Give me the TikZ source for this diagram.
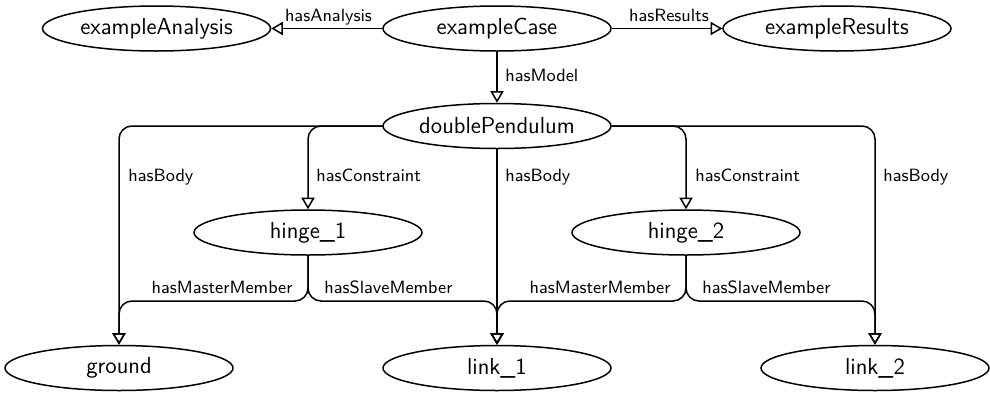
\documentclass[tikz,border=0pt]{standalone}
\usetikzlibrary{arrows.meta,shapes.geometric}
\begin{document}
\begin{tikzpicture}[x=0.5pt,y=-0.5pt,
  entity/.style={draw, ellipse, line width=0.75pt, minimum width=114pt,
    minimum height=22.5pt, inner sep=0pt,
    font=\sffamily\fontsize{11.6}{14}\selectfont},
  rel/.style={font=\sffamily\fontsize{8.9}{10.7}\selectfont, inner sep=0pt},
  link/.style={draw, line width=0.75pt,
    -{Triangle[open, length=5.8pt, width=6.6pt]}, rounded corners=6.5pt}]
\useasboundingbox (0,0) rectangle (990,392);

% ontology individuals
\node[entity] (analysis) at (156.5,28.5) {exampleAnalysis};
\node[entity] (case)     at (497,28.5)   {exampleCase};
\node[entity] (results)  at (837,28.5)   {exampleResults};
\node[entity] (dp)       at (497,126)    {doublePendulum};
\node[entity] (h1)       at (308,232.5)  {hinge\_1};
\node[entity] (h2)       at (686,232.5)  {hinge\_2};
\node[entity] (ground)   at (119,368)    {ground};
\node[entity] (link1)    at (497,368)    {link\_1};
\node[entity] (link2)    at (875,368)    {link\_2};

% height of the member buses below the hinges
\coordinate (bus) at (0,301);

% object properties
\draw[link] (case) -- (analysis);
\draw[link] (case) -- (results);
\draw[link] (case) -- (dp);
\draw[link] (dp.west) -| (h1.north);
\draw[link] (dp.west) -| (ground.north);
\draw[link] (dp) -- (link1);
\draw[link] (dp.east) -| (h2.north);
\draw[link] (dp.east) -| (link2.north);
\draw[link] (h1.south) -- (h1.south |- bus) -- (ground.north |- bus) -- (ground.north);
\draw[link] (h1.south) -- (h1.south |- bus) -- (link1.north |- bus) -- (link1.north);
\draw[link] (h2.south) -- (h2.south |- bus) -- (link1.north |- bus) -- (link1.north);
\draw[link] (h2.south) -- (h2.south |- bus) -- (link2.north |- bus) -- (link2.north);

% property labels
\node[rel, anchor=base] (lAnalysis) at (328.5,21.5) {hasAnalysis};
\node[rel, anchor=base] (lResults)  at (669,21)     {hasResults};
\node[rel, anchor=base west] (lModel) at (505,81.5) {hasModel};
\node[rel, anchor=base west] (lBodyA) at (128,181)  {hasBody};
\node[rel, anchor=base west] (lConA)  at (316,181)  {hasConstraint};
\node[rel, anchor=base west] (lBodyB) at (505,181)  {hasBody};
\node[rel, anchor=base west] (lConB)  at (695,181)  {hasConstraint};
\node[rel, anchor=base west] (lBodyC) at (883,181)  {hasBody};
\node[rel, anchor=base east] (lMasA)  at (293,293)  {hasMasterMember};
\node[rel, anchor=base west] (lSlaA)  at (324,293)  {hasSlaveMember};
\node[rel, anchor=base east] (lMasB)  at (671,293)  {hasMasterMember};
\node[rel, anchor=base west] (lSlaB)  at (702,293)  {hasSlaveMember};
\end{tikzpicture}
\end{document}
